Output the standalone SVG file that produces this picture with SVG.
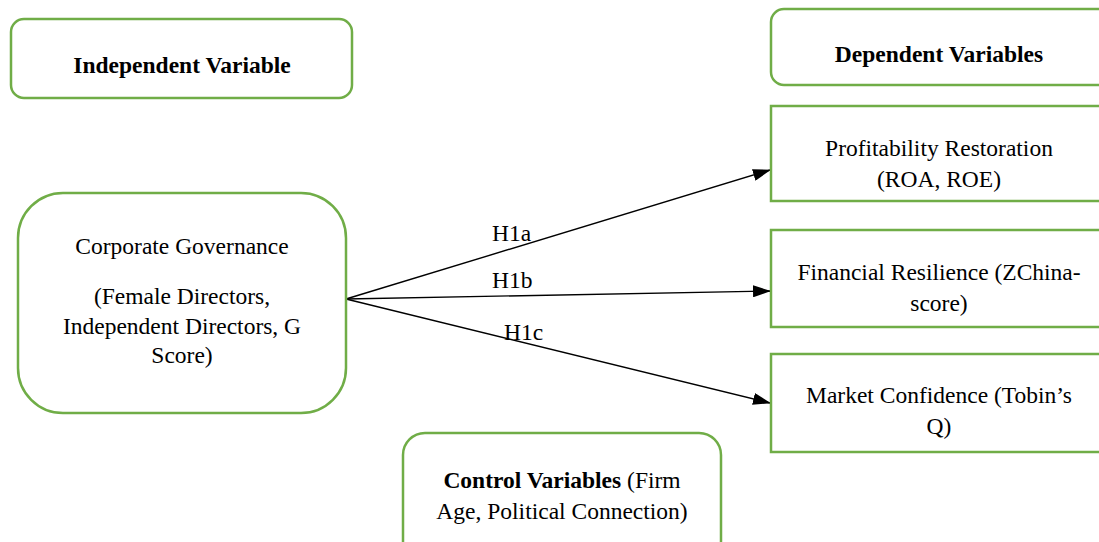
<svg xmlns="http://www.w3.org/2000/svg" width="1099" height="542" viewBox="0 0 1099 542">
<defs>
<style>
.box{fill:#fff;stroke:#70AD47;stroke-width:2.5}
.t{font-family:"Liberation Serif","Times New Roman",serif;font-size:23.5px;fill:#000;text-anchor:middle}
.b{font-weight:bold}
.lbl{font-family:"Liberation Serif","Times New Roman",serif;font-size:23.5px;fill:#000}
.arr{stroke:#000;stroke-width:1.4;fill:none;marker-end:url(#ah)}
</style>
<marker id="ah" markerWidth="18" markerHeight="12" refX="17" refY="6" orient="auto" markerUnits="userSpaceOnUse">
<path d="M0,0 L18,6 L0,12 Z" fill="#000"/>
</marker>
</defs>
<rect width="1099" height="542" fill="#fff"/>
<g id="connectors">
<line class="arr" x1="346" y1="299" x2="770" y2="170"/>
<line class="arr" x1="346" y1="299" x2="770" y2="291"/>
<line class="arr" x1="346" y1="299" x2="770" y2="403"/>
<text class="lbl" x="492" y="241">H1a</text>
<text class="lbl" x="492" y="288">H1b</text>
<text class="lbl" x="504" y="340">H1c</text>
</g>
<g id="independent">
<rect class="box" x="11" y="19" width="341" height="79" rx="13"/>
<text class="t b" x="182" y="73">Independent Variable</text>
</g>
<g id="dependent">
<rect class="box" x="771" y="9" width="340" height="76" rx="13"/>
<text class="t b" x="939" y="62">Dependent Variables</text>
</g>
<g id="profitability">
<rect class="box" x="771" y="106" width="340" height="95"/>
<text class="t" x="939" y="156">Profitability Restoration</text>
<text class="t" x="939" y="187">(ROA, ROE)</text>
</g>
<g id="financial">
<rect class="box" x="771" y="230" width="340" height="97"/>
<text class="t" x="939" y="280">Financial Resilience (ZChina-</text>
<text class="t" x="939" y="311">score)</text>
</g>
<g id="market">
<rect class="box" x="771" y="354" width="340" height="98"/>
<text class="t" x="939" y="403">Market Confidence (Tobin’s</text>
<text class="t" x="939" y="434">Q)</text>
</g>
<g id="governance">
<rect class="box" x="18" y="193" width="328" height="220" rx="45"/>
<text class="t" x="182" y="254">Corporate Governance</text>
<text class="t" x="182" y="304">(Female Directors,</text>
<text class="t" x="182" y="334">Independent Directors, G</text>
<text class="t" x="182" y="363">Score)</text>
</g>
<g id="control">
<rect class="box" x="403" y="433" width="318" height="130" rx="22"/>
<text class="t" x="562" y="488"><tspan class="b">Control Variables</tspan> (Firm</text>
<text class="t" x="562" y="519">Age, Political Connection)</text>
</g>
</svg>
